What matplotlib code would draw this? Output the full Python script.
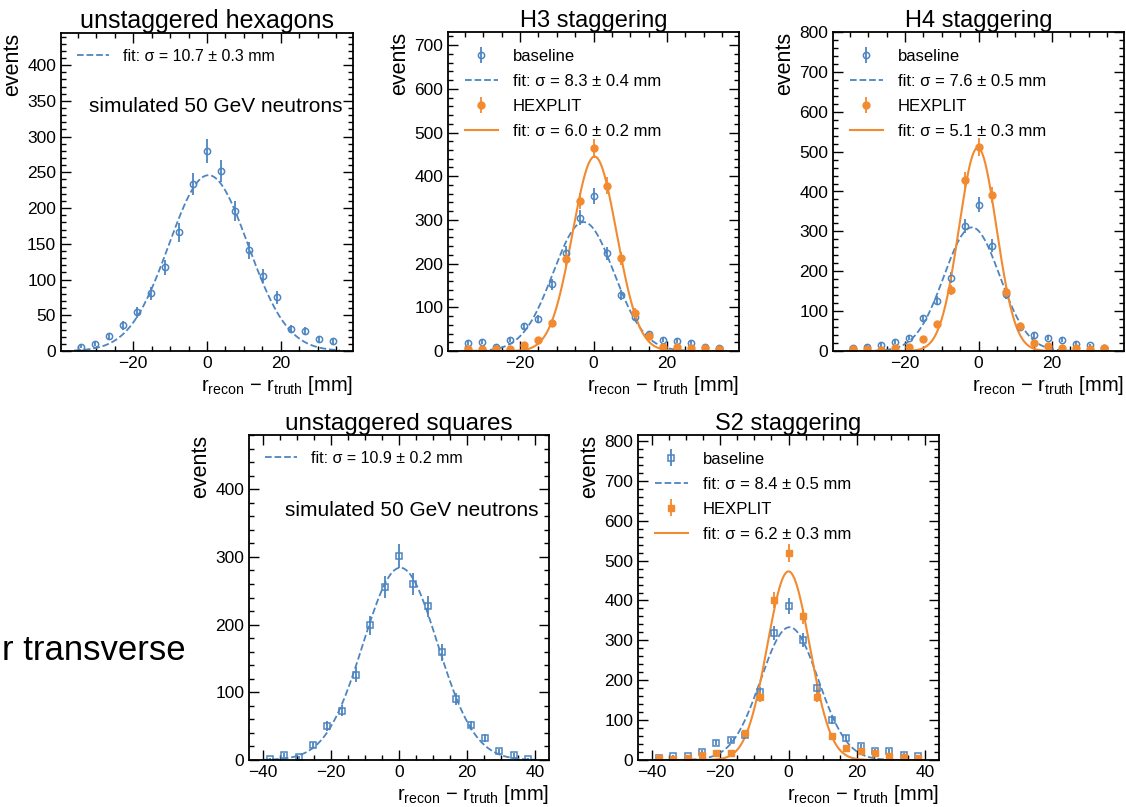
import numpy as np
import matplotlib
matplotlib.use("Agg")
import matplotlib.pyplot as plt
from matplotlib.ticker import MultipleLocator

plt.rcParams['font.family'] = ['Liberation Sans', 'DejaVu Sans']
plt.rcParams['mathtext.fontset'] = 'custom'
plt.rcParams['mathtext.rm'] = 'Liberation Sans'
plt.rcParams['mathtext.it'] = 'Liberation Sans:italic'

# cores
azul = '#4d85c0'
laranja = '#f28a30'

# histogramas hexagonais: 19 bins entre -36 e 36 mm
hex_edges = np.linspace(-36, 36, 20)
# histogramas quadrados: 19 bins entre -40 e 40 mm
sq_edges = np.linspace(-40, 40, 20)

# unstaggered hexagons
hex0_base = [6, 10, 21, 36, 54, 81, 117, 166, 234, 280, 252, 196, 141, 105, 75, 31, 28, 17, 14]
hex0_fit = (246, 0.4, 10.7)

# H3 staggering
h3_base = [19, 20, 10, 26, 57, 73, 153, 225, 305, 355, 224, 128, 78, 38, 25, 23, 19, 9, 8]
h3_hex = [4, 5, 4, 5, 14, 25, 63, 210, 343, 464, 378, 212, 88, 34, 10, 9, 8, 7, 5]
h3_fit_base = (295, -2.7, 8.3)
h3_fit_hex = (445, 0.3, 6.0)

# H4 staggering
h4_base = [7, 11, 15, 23, 32, 82, 126, 184, 314, 367, 264, 143, 61, 39, 33, 28, 18, 14, 7]
h4_hex = [4, 5, 3, 8, 11, 29, 67, 153, 429, 511, 392, 148, 63, 19, 13, 7, 7, 5, 7]
h4_fit_base = (310, -1.8, 7.6)
h4_fit_hex = (510, -0.2, 5.1)

# unstaggered squares
sq0_base = [2, 7, 4, 22, 50, 73, 126, 199, 256, 301, 260, 227, 159, 90, 51, 33, 13, 7, 2]
sq0_fit = (284, 0.4, 10.9)

# S2 staggering
s2_base = [6, 10, 10, 21, 43, 49, 62, 171, 318, 387, 300, 180, 100, 56, 35, 23, 23, 13, 9]
s2_hex = [4, 3, 6, 13, 17, 17, 67, 157, 402, 519, 360, 159, 61, 29, 23, 17, 11, 7, 4]
s2_fit_base = (333, 0.3, 8.4)
s2_fit_hex = (473, 0.0, 6.2)


def gauss(x, a, mu, s):
    return a * np.exp(-0.5 * ((x - mu) / s) ** 2)


def estilo(ax, ymax, ymaj, ymin, xlim):
    ax.set_xlim(*xlim)
    ax.set_ylim(0, ymax)
    ax.xaxis.set_major_locator(MultipleLocator(20))
    ax.xaxis.set_minor_locator(MultipleLocator(5))
    ax.yaxis.set_major_locator(MultipleLocator(ymaj))
    ax.yaxis.set_minor_locator(MultipleLocator(ymin))
    ax.tick_params(which='both', direction='in', top=True, right=True, labelsize=12.5)
    ax.tick_params(which='major', length=7, width=1)
    ax.tick_params(which='minor', length=3.5, width=1)
    for s in ax.spines.values():
        s.set_linewidth(1.3)
    ax.set_ylabel('events', loc='top', fontsize=15.5, labelpad=3)
    ax.set_xlabel(r'r$_{\rm recon}$ $-$ r$_{\rm truth}$ [mm]', loc='right', fontsize=14.5, labelpad=2)


def painel(ax, titulo, edges, base, fit_base, sigtxt_base, hexv=None, fit_hex=None,
           sigtxt_hex=None, marker='o', ymax=500, ymaj=100, ymin=20, xlim=(-40, 40),
           texto=False, legsize=12, titsize=17):
    c = 0.5 * (edges[1:] + edges[:-1])
    xf = np.linspace(edges[0], edges[-1], 400)
    base = np.array(base, dtype=float)
    h1 = ax.errorbar(c, base, yerr=np.sqrt(base), fmt=marker, ms=4.5, mfc='none', mec=azul,
                     mew=1.1, color=azul, elinewidth=1.3, capsize=0, label='baseline')
    l1, = ax.plot(xf, gauss(xf, *fit_base), '--', color=azul, lw=1.3,
                  label='fit: σ = ' + sigtxt_base + ' mm')
    handles = [l1]
    if hexv is not None:
        hexv = np.array(hexv, dtype=float)
        h2 = ax.errorbar(c, hexv, yerr=np.sqrt(hexv), fmt=marker, ms=5, color=laranja,
                         elinewidth=1.3, capsize=0, label='HEXPLIT')
        l2, = ax.plot(xf, gauss(xf, *fit_hex), '-', color=laranja, lw=1.5,
                      label='fit: σ = ' + sigtxt_hex + ' mm')
        handles = [h1, l1, h2, l2]
    ax.legend(handles=handles, loc='upper left', frameon=False, fontsize=legsize,
              handlelength=2.0, handletextpad=0.9, labelspacing=0.6, borderaxespad=0.6)
    ax.set_title(titulo, fontsize=titsize, pad=3)
    estilo(ax, ymax, ymaj, ymin, xlim)
    if texto:
        ax.text(0.965, 0.768, 'simulated 50 GeV neutrons', transform=ax.transAxes,
                ha='right', va='center', fontsize=15)


fig = plt.figure(figsize=(11.26, 8.07), dpi=100)
W, H = 1126.0, 807.0


def eixo(l, t, r, b):
    return fig.add_axes([l / W, 1 - b / H, (r - l) / W, (b - t) / H])


ax1 = eixo(61, 33, 353, 351)
ax2 = eixo(448, 32, 739, 351)
ax3 = eixo(833, 32, 1124, 351)
ax4 = eixo(249, 435, 549, 760)
ax5 = eixo(638, 435, 939, 760)

painel(ax1, 'unstaggered hexagons', hex_edges, hex0_base, hex0_fit, '10.7 ± 0.3',
       ymax=445, ymaj=50, ymin=10, xlim=(-39.6, 39.6), texto=True, legsize=11.5, titsize=18)
painel(ax2, 'H3 staggering', hex_edges, h3_base, h3_fit_base, '8.3 ± 0.4',
       h3_hex, h3_fit_hex, '6.0 ± 0.2', ymax=730, xlim=(-39.6, 39.6))
painel(ax3, 'H4 staggering', hex_edges, h4_base, h4_fit_base, '7.6 ± 0.5',
       h4_hex, h4_fit_hex, '5.1 ± 0.3', ymax=800, xlim=(-39.6, 39.6))
painel(ax4, 'unstaggered squares', sq_edges, sq0_base, sq0_fit, '10.9 ± 0.2',
       marker='s', ymax=480, xlim=(-44, 44), texto=True, legsize=11.5, titsize=17.5)
painel(ax5, 'S2 staggering', sq_edges, s2_base, s2_fit_base, '8.4 ± 0.5',
       s2_hex, s2_fit_hex, '6.2 ± 0.3', marker='s', ymax=815, xlim=(-44, 44))

fig.text(0.002, 1 - 650 / H, 'r transverse', fontsize=25, va='center', ha='left')

fig.savefig('out.png', dpi=100)
